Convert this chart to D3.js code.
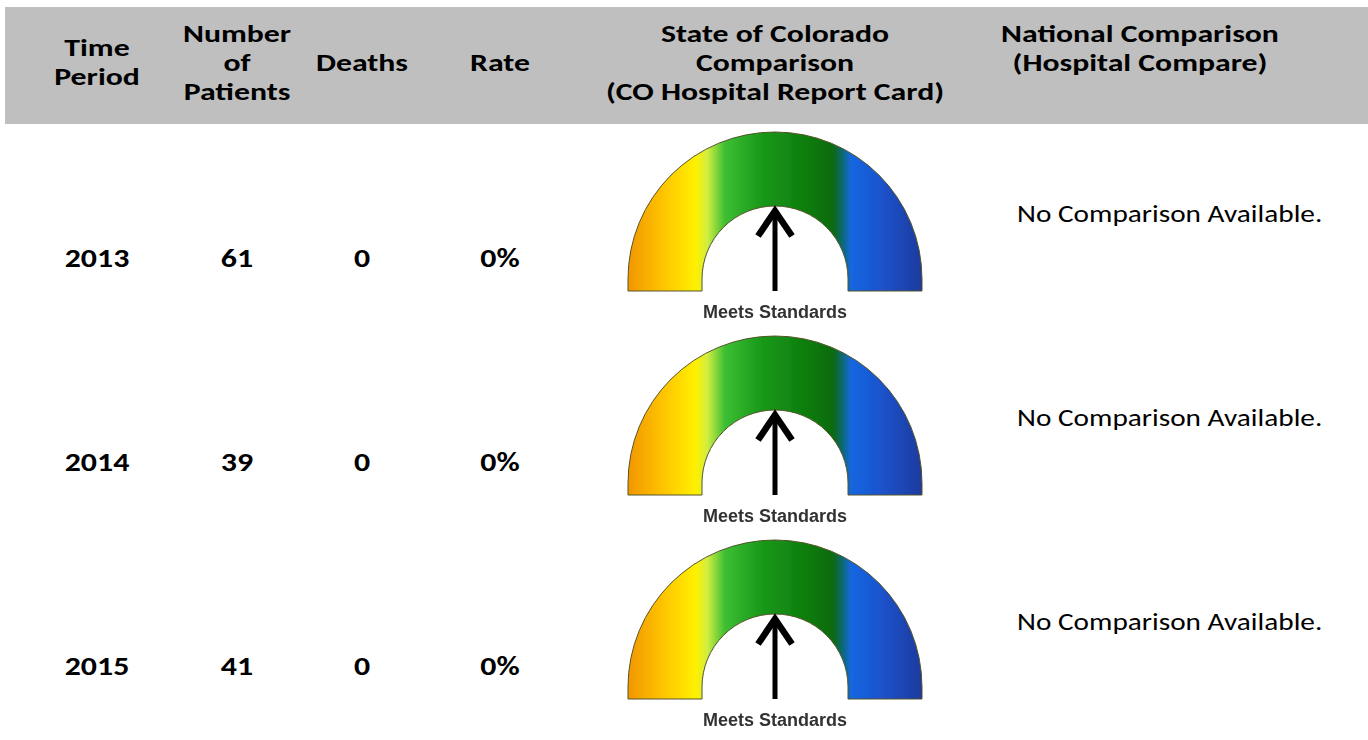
<!DOCTYPE html>
<html>
<head>
<meta charset="utf-8">
<script src="https://cdn.jsdelivr.net/npm/d3@7"></script>
<style>
  body { margin: 0; background: #fff; }
  svg { display: block; }
</style>
</head>
<body>
<div id="chart"></div>
<script>
// data
var headers = [
    ['Time', 'Period'],
    ['Number', 'of', 'Patients'],
    ['Deaths'],
    ['Rate'],
    ['State of Colorado', 'Comparison', '(CO Hospital Report Card)'],
    ['National Comparison', '(Hospital Compare)']
]
var periods = ['2013', '2014', '2015']
var patients = [61, 39, 41]
var deaths = [0, 0, 0]
var rates = ['0%', '0%', '0%']
var stateRating = ['Meets Standards', 'Meets Standards', 'Meets Standards']
var national = ['No Comparison Available.', 'No Comparison Available.', 'No Comparison Available.']
var gaugeStops = ['#f29600', '#ffc800', '#fff000', '#d0ee40', '#3cbf34', '#1a9a1a', '#0c7a0c', '#0a6a12', '#1466e0', '#1a55d0', '#1c3a9e']

// svg dimensions
var w = 1368,
    h = 740,
    font = 'Calibri, Carlito, Lato, sans-serif'

var svg = d3.select('#chart')
    .append('svg')
    .attr('width', w)
    .attr('height', h)

// column centres
var xcol = d3.scaleOrdinal()
    .domain(d3.range(6))
    .range([97, 237, 362, 500, 775, 1140])

// rows
var yrow = d3.scalePoint()
    .domain(d3.range(periods.length))
    .range([0, 408])

var rowTop = 132

// header band
svg.append('rect')
    .attr('x', 5)
    .attr('y', 7)
    .attr('width', w - 5)
    .attr('height', 117)
    .attr('fill', '#bfbfbf')

// text looks stretched sideways in the original, so widen via scaleX
var lineH = 29
var hdr = svg.selectAll('.hdr')
    .data(headers)
    .enter()
    .append('g')
    .attr('class', 'hdr')
    .attr('transform', (d, i) => `translate(${xcol(i)},0) scale(1.27,1)`)
    .append('text')
    .attr('text-anchor', 'middle')
    .attr('font-family', font)
    .attr('font-weight', 'bold')
    .attr('font-size', 25)
    .attr('fill', '#000')

hdr.selectAll('tspan')
    .data((d, i) => d.map(t => ({ t: t, n: d.length, col: i })))
    .enter()
    .append('tspan')
    .attr('x', 0)
    .attr('y', (d, j) => {
        // national column is top aligned, others centred
        var first = d.col == 5 ? 42 : 71 - (d.n - 1) * lineH / 2
        return first + j * lineH
    })
    .text(d => d.t)

// gradient
var defs = svg.append('defs')
var grad = defs.append('linearGradient')
    .attr('id', 'gauge')
    .attr('x1', 0).attr('x2', 1)
    .attr('y1', 0).attr('y2', 0)
grad.selectAll('stop')
    .data(gaugeStops)
    .enter()
    .append('stop')
    .attr('offset', (d, i) => [0, 0.13, 0.23, 0.27, 0.33, 0.45, 0.62, 0.7, 0.76, 0.85, 1][i])
    .attr('stop-color', d => d)

defs.append('filter')
    .attr('id', 'soft')
    .append('feGaussianBlur')
    .attr('stdDeviation', 0.5)

// gauge geometry
var ro = 147, ri = 73, cyOff = 147, baseOff = 159

function gaugePath(cx, cy, base) {
    var p = d3.path()
    p.moveTo(cx - ro, base)
    p.lineTo(cx - ro, cy)
    p.arc(cx, cy, ro, Math.PI, 2 * Math.PI)
    p.lineTo(cx + ro, base)
    p.lineTo(cx + ri, base)
    p.lineTo(cx + ri, cy)
    p.arc(cx, cy, ri, 0, -Math.PI, true)
    p.lineTo(cx - ri, base)
    p.closePath()
    return p.toString()
}

var rowY = i => rowTop + yrow(i)

// gauges (drawn first so labels sit on top)
var cx = xcol(4)
var g = svg.selectAll('.gauge')
    .data(periods)
    .enter()
    .append('g')
    .attr('class', 'gauge')
    .attr('transform', (d, i) => `translate(0,${rowY(i)})`)

g.append('path')
    .attr('d', gaugePath(cx, cyOff, baseOff))
    .attr('fill', 'url(#gauge)')
    .attr('stroke', '#55552a')
    .attr('stroke-width', 1)
    .attr('filter', 'url(#soft)')

g.append('line')
    .attr('x1', cx).attr('x2', cx)
    .attr('y1', baseOff).attr('y2', cyOff - ri + 4)
    .attr('stroke', '#000')
    .attr('stroke-width', 5)

g.append('path')
    .attr('d', `M${cx - 17},${cyOff - ri + 30}L${cx},${cyOff - ri + 5}L${cx + 17},${cyOff - ri + 30}`)
    .attr('fill', 'none')
    .attr('stroke', '#000')
    .attr('stroke-width', 6.5)

var rows = svg.selectAll('.row')
    .data(periods)
    .enter()
    .append('g')
    .attr('class', 'row')
    .attr('transform', (d, i) => `translate(0,${rowY(i)})`)

// simple cells
var cells = [periods, patients, deaths, rates]
cells.forEach((arr, c) => {
    rows.append('g')
        .attr('transform', `translate(${xcol(c)},0) scale(1.18,1)`)
        .append('text')
        .attr('x', 0)
        .attr('y', 135)
        .attr('text-anchor', 'middle')
        .attr('font-family', font)
        .attr('font-weight', 'bold')
        .attr('font-size', 27)
        .text((d, i) => arr[i])
})

// national comparison
rows.append('g')
    .attr('transform', 'translate(1017,0) scale(1.22,1)')
    .append('text')
    .attr('x', 0)
    .attr('y', 90)
    .attr('font-family', font)
    .attr('font-size', 24)
    .text((d, i) => national[i])

rows.append('text')
    .attr('x', cx)
    .attr('y', baseOff + 27)
    .attr('text-anchor', 'middle')
    .attr('font-family', 'Liberation Sans, Arial, sans-serif')
    .attr('font-weight', 'bold')
    .attr('font-size', 18)
    .attr('fill', '#333')
    .attr('filter', 'url(#soft)')
    .text((d, i) => stateRating[i])
</script>
</body>
</html>
